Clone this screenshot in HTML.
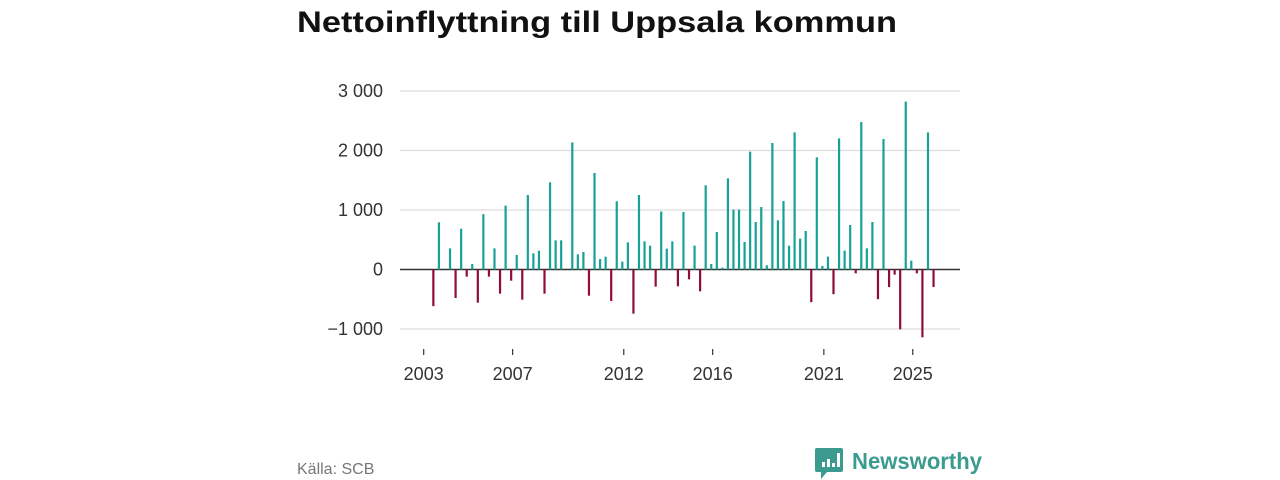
<!DOCTYPE html>
<html><head><meta charset="utf-8"><style>
html,body{margin:0;padding:0;background:#fff;}
svg{display:block;font-family:"Liberation Sans",sans-serif;}
</style></head><body>
<svg id="chart" width="1280" height="480" viewBox="0 0 1280 480">
<text x="297" y="32" font-size="30" font-weight="bold" fill="#111" textLength="600" lengthAdjust="spacingAndGlyphs">Nettoinflyttning till Uppsala kommun</text>
<g id="grid"></g>
<g id="bars"></g>
<g id="xaxis"></g>
<text x="297" y="474" font-size="16" fill="#777">Källa: SCB</text>
<g>
<path d="M817 448 h24 a2 2 0 0 1 2 2 v20 a2 2 0 0 1 -2 2 h-14 l-6 7 v-7 h-4 a2 2 0 0 1 -2 -2 v-20 a2 2 0 0 1 2 -2z" fill="#3a9b8e"/>
<rect x="822" y="462" width="3" height="5" fill="#fff"/><rect x="827" y="459" width="3" height="8" fill="#fff"/><rect x="832" y="463" width="3" height="4" fill="#fff"/><rect x="837" y="453" width="3" height="14" fill="#fff"/>
<text x="852" y="469" font-size="23" font-weight="bold" fill="#3a9b8e" textLength="130" lengthAdjust="spacingAndGlyphs">Newsworthy</text>
</g>
</svg>
<script>
const startYear = 2003, startQuarter = 2;
const values = [-616,793,0,355,-479,686,-120,92,-558,930,-120,355,-406,1073,-188,244,-507,1252,272,316,-406,1465,490,490,0,2137,255,294,-440,1622,176,216,-529,1146,132,457,-742,1252,473,401,-288,975,350,473,-283,966,-165,401,-367,1415,92,630,31,1532,1006,1006,462,1980,798,1050,70,2126,826,1151,401,2305,518,647,-549,1885,59,216,-415,2204,317,748,-64,2479,356,798,-499,2193,-295,-87,-1006,2821,149,-64,-1140,2305,-295];
const yTicks = [-1000,0,1000,2000,3000];
const yTickLabels = ["\u22121 000","0","1 000","2 000","3 000"];
const xTicks = [2003,2007,2012,2016,2021,2025];
const NS="http://www.w3.org/2000/svg";
function y(v){return 269.5 - v*0.0595;}
function x(t){return 423.7 + (t-2003)*22.23;}
const grid=document.getElementById('grid'), bars=document.getElementById('bars'), xa=document.getElementById('xaxis');
yTicks.forEach((v,i)=>{
  const l=document.createElementNS(NS,'line');
  
  
  l.setAttribute('x1',400);l.setAttribute('x2',960);l.setAttribute('y1',y(v));l.setAttribute('y2',y(v));
  l.setAttribute('stroke',v===0?'#333':'#ddd');l.setAttribute('stroke-width',v===0?1.5:1.2);
  grid.appendChild(l);
  const t=document.createElementNS(NS,'text');
  
  
  t.setAttribute('x',383);t.setAttribute('y',y(v)+6);t.setAttribute('text-anchor','end');
  t.setAttribute('font-size',18);t.setAttribute('fill','#333');t.textContent=yTickLabels[i];
  grid.appendChild(t);
});
values.forEach((v,i)=>{
  const t=startYear+(startQuarter-1+i)/4+0.18;
  const r=document.createElementNS(NS,'rect');
  
  
  r.setAttribute('x',x(t)-1);r.setAttribute('width',2.2);
  r.setAttribute('y',Math.min(y(v),y(0)));r.setAttribute('height',Math.abs(y(v)-y(0)));
  r.setAttribute('fill',v>=0?'#17a197':'#8f0c3c');
  bars.appendChild(r);
});
xTicks.forEach(yr=>{
  const l=document.createElementNS(NS,'line');
  
  
  l.setAttribute('x1',x(yr));l.setAttribute('x2',x(yr));l.setAttribute('y1',349);l.setAttribute('y2',355);
  l.setAttribute('stroke','#333');l.setAttribute('stroke-width',1.2);
  xa.appendChild(l);
  const t=document.createElementNS(NS,'text');
  
  
  t.setAttribute('x',x(yr));t.setAttribute('y',380);t.setAttribute('text-anchor','middle');
  t.setAttribute('font-size',18);t.setAttribute('fill','#333');t.textContent=yr;
  xa.appendChild(t);
});
</script>
</body></html>
